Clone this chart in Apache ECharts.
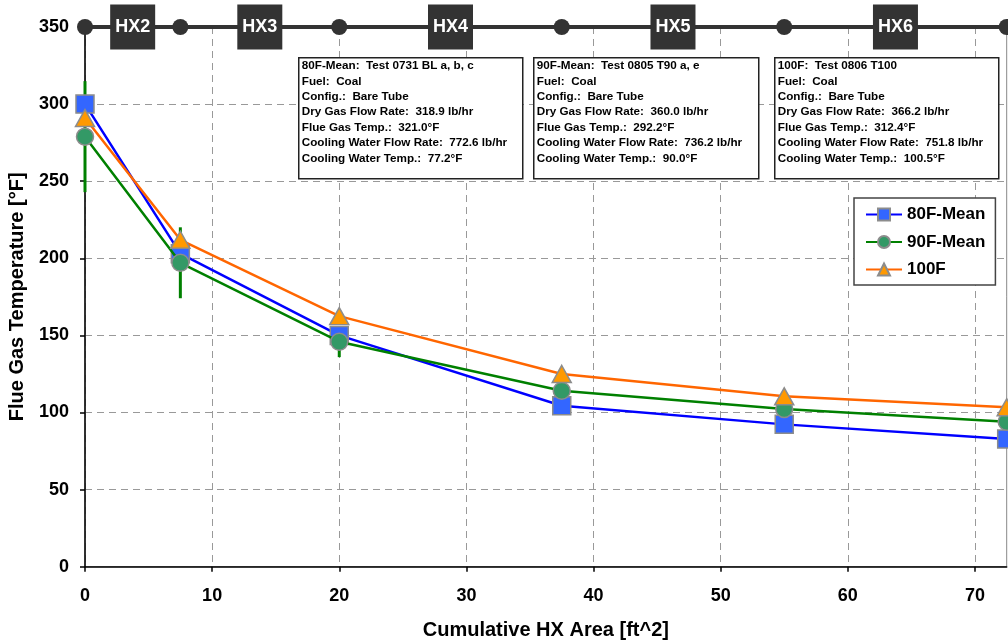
<!DOCTYPE html>
<html>
<head>
<meta charset="utf-8">
<script src="https://cdn.jsdelivr.net/npm/echarts@6/dist/echarts.min.js"></script>
<style>
html,body{margin:0;padding:0;background:#fff;}
#chart{width:1008px;height:644px;}
</style>
</head>
<body>
<div id="chart"></div>
<script>
// ---- data ----
var areas = [0, 7.5, 20, 37.5, 55, 72.5];
var mean80 = [300, 203, 150, 104.4, 92.3, 82.8];
var mean90 = [278.9, 197.1, 145.9, 114.1, 102.3, 94];
var t100 = [291, 212, 162.5, 125, 110.5, 103.4];
var err90 = [36, 23, 10, 2, 2, 2];
var seriesNames = ['80F-Mean', '90F-Mean', '100F'];
var hxLabels = ['HX2', 'HX3', 'HX4', 'HX5', 'HX6'];
var hxCenters = [3.75, 13.75, 28.75, 46.25, 63.75];
var hxLevel = 350;
var xTicks = [0, 10, 20, 30, 40, 50, 60, 70];
var box80 = ['80F-Mean:  Test 0731 BL a, b, c', 'Fuel:  Coal', 'Config.:  Bare Tube',
  'Dry Gas Flow Rate:  318.9 lb/hr', 'Flue Gas Temp.:  321.0°F',
  'Cooling Water Flow Rate:  772.6 lb/hr', 'Cooling Water Temp.:  77.2°F'];
var box90 = ['90F-Mean:  Test 0805 T90 a, e', 'Fuel:  Coal', 'Config.:  Bare Tube',
  'Dry Gas Flow Rate:  360.0 lb/hr', 'Flue Gas Temp.:  292.2°F',
  'Cooling Water Flow Rate:  736.2 lb/hr', 'Cooling Water Temp.:  90.0°F'];
var box100 = ['100F:  Test 0806 T100', 'Fuel:  Coal', 'Config.:  Bare Tube',
  'Dry Gas Flow Rate:  366.2 lb/hr', 'Flue Gas Temp.:  312.4°F',
  'Cooling Water Flow Rate:  751.8 lb/hr', 'Cooling Water Temp.:  100.5°F'];

// ---- build ----
var FONT = 'Liberation Sans, Arial, sans-serif';
function pairs(xs, ys) { return xs.map(function (x, i) { return [x, ys[i]]; }); }

function infoBox(left, width, lines) {
  return {
    type: 'group', left: left, top: 57, z: 50,
    children: [
      { type: 'rect', z: 50, shape: { x: 0, y: 0, width: width, height: 121 },
        style: { fill: '#fff', stroke: '#222', lineWidth: 1.5 } },
      { type: 'text', z: 51, x: 3, y: 0.5,
        style: { text: lines.join('\n'), fill: '#000', fontSize: 11.7, fontWeight: 'bold',
                 fontFamily: FONT, lineHeight: 15.4, verticalAlign: 'top', align: 'left' } }
    ]
  };
}

var chart = echarts.init(document.getElementById('chart'), null, { renderer: 'canvas' });
var option = {
  animation: false,
  backgroundColor: '#fff',
  textStyle: { fontFamily: FONT },
  grid: { left: 85, top: 27, right: 1.3, bottom: 77.3, show: true, containLabel: false,
          outerBoundsMode: 'none',
          borderColor: '#888', borderWidth: 1, backgroundColor: 'transparent' },
  legend: {
    data: seriesNames, left: 854, top: 198, orient: 'vertical', z: 60,
    backgroundColor: '#fff', borderColor: '#444', borderWidth: 1.5,
    padding: [8, 10, 7, 11], itemGap: 10.5, itemWidth: 36, itemHeight: 15,
    selectedMode: false,
    textStyle: { fontSize: 17, fontWeight: 'bold', color: '#000', fontFamily: FONT }
  },
  xAxis: {
    type: 'value', min: 0, max: 72.5, interval: 10,
    name: 'Cumulative HX Area [ft^2]', nameLocation: 'middle', nameGap: 54,
    nameTextStyle: { fontSize: 20, fontWeight: 'bold', color: '#000', fontFamily: FONT },
    axisLine: { show: true, onZero: false, lineStyle: { color: '#000', width: 1.5 } },
    axisTick: { show: true, length: 5, customValues: xTicks, lineStyle: { color: '#000', width: 1.5 } },
    axisLabel: { customValues: xTicks, margin: 20, fontSize: 18, fontWeight: 'bold', color: '#000', fontFamily: FONT },
    splitLine: { show: true, lineStyle: { color: '#999', type: [7, 5], width: 1 } }
  },
  yAxis: {
    type: 'value', min: 0, max: 350, interval: 50,
    name: 'Flue Gas Temperature [°F]', nameLocation: 'middle', nameGap: 58,
    nameTextStyle: { fontSize: 20, fontWeight: 'bold', color: '#000', fontFamily: FONT },
    axisLine: { show: true, onZero: false, lineStyle: { color: '#000', width: 1.5 } },
    axisTick: { show: true, length: 5, lineStyle: { color: '#000', width: 1.5 } },
    axisLabel: { margin: 16, fontSize: 18, fontWeight: 'bold', color: '#000', fontFamily: FONT },
    splitLine: { show: true, lineStyle: { color: '#999', type: [7, 5], width: 1 } }
  },
  graphic: [
    infoBox(298, 224, box80),
    infoBox(533, 225, box90),
    infoBox(774, 224, box100)
  ],
  series: [
    {
      name: 'hxline', type: 'line', data: areas.map(function (x) { return [x, hxLevel]; }),
      symbol: 'circle', symbolSize: 16, clip: false, z: 5, silent: true,
      lineStyle: { color: '#333', width: 4 }, itemStyle: { color: '#333', opacity: 1 }
    },
    {
      name: 'hxbox', type: 'scatter', data: hxCenters.map(function (x) { return [x, hxLevel]; }),
      symbol: 'rect', symbolSize: 45, clip: false, z: 6, silent: true,
      itemStyle: { color: '#333', opacity: 1 },
      label: { show: true, position: 'inside', color: '#fff', fontSize: 18, fontWeight: 'bold', fontFamily: FONT,
               formatter: function (p) { return hxLabels[p.dataIndex]; } }
    },
    {
      name: 'err90', type: 'custom', z: 1, clip: false,
      data: areas.map(function (x, i) { return [x, mean90[i] - err90[i], mean90[i] + err90[i]]; }),
      renderItem: function (params, api) {
        var p1 = api.coord([api.value(0), api.value(1)]);
        var p2 = api.coord([api.value(0), api.value(2)]);
        return { type: 'line', shape: { x1: p1[0], y1: p1[1], x2: p2[0], y2: p2[1] },
                 style: { stroke: '#008000', lineWidth: 3 } };
      }
    },
    {
      name: seriesNames[0], type: 'line', data: pairs(areas, mean80), z: 2,
      symbol: 'rect', symbolSize: 18, clip: false,
      lineStyle: { color: '#0000ff', width: 2.5 },
      itemStyle: { color: '#3366ff', borderColor: '#8c8c8c', borderWidth: 1.5 }
    },
    {
      name: seriesNames[1], type: 'line', data: pairs(areas, mean90), z: 3,
      symbol: 'circle', symbolSize: 17, clip: false,
      lineStyle: { color: '#008000', width: 2.5 },
      itemStyle: { color: '#339966', borderColor: '#8c8c8c', borderWidth: 1.5 }
    },
    {
      name: seriesNames[2], type: 'line', data: pairs(areas, t100), z: 4,
      symbol: 'triangle', symbolSize: [19, 17], clip: false,
      lineStyle: { color: '#ff6600', width: 2.5 },
      itemStyle: { color: '#ff9900', borderColor: '#8c8c8c', borderWidth: 1.5 }
    }
  ]
};
chart.setOption(option);
</script>
</body>
</html>
